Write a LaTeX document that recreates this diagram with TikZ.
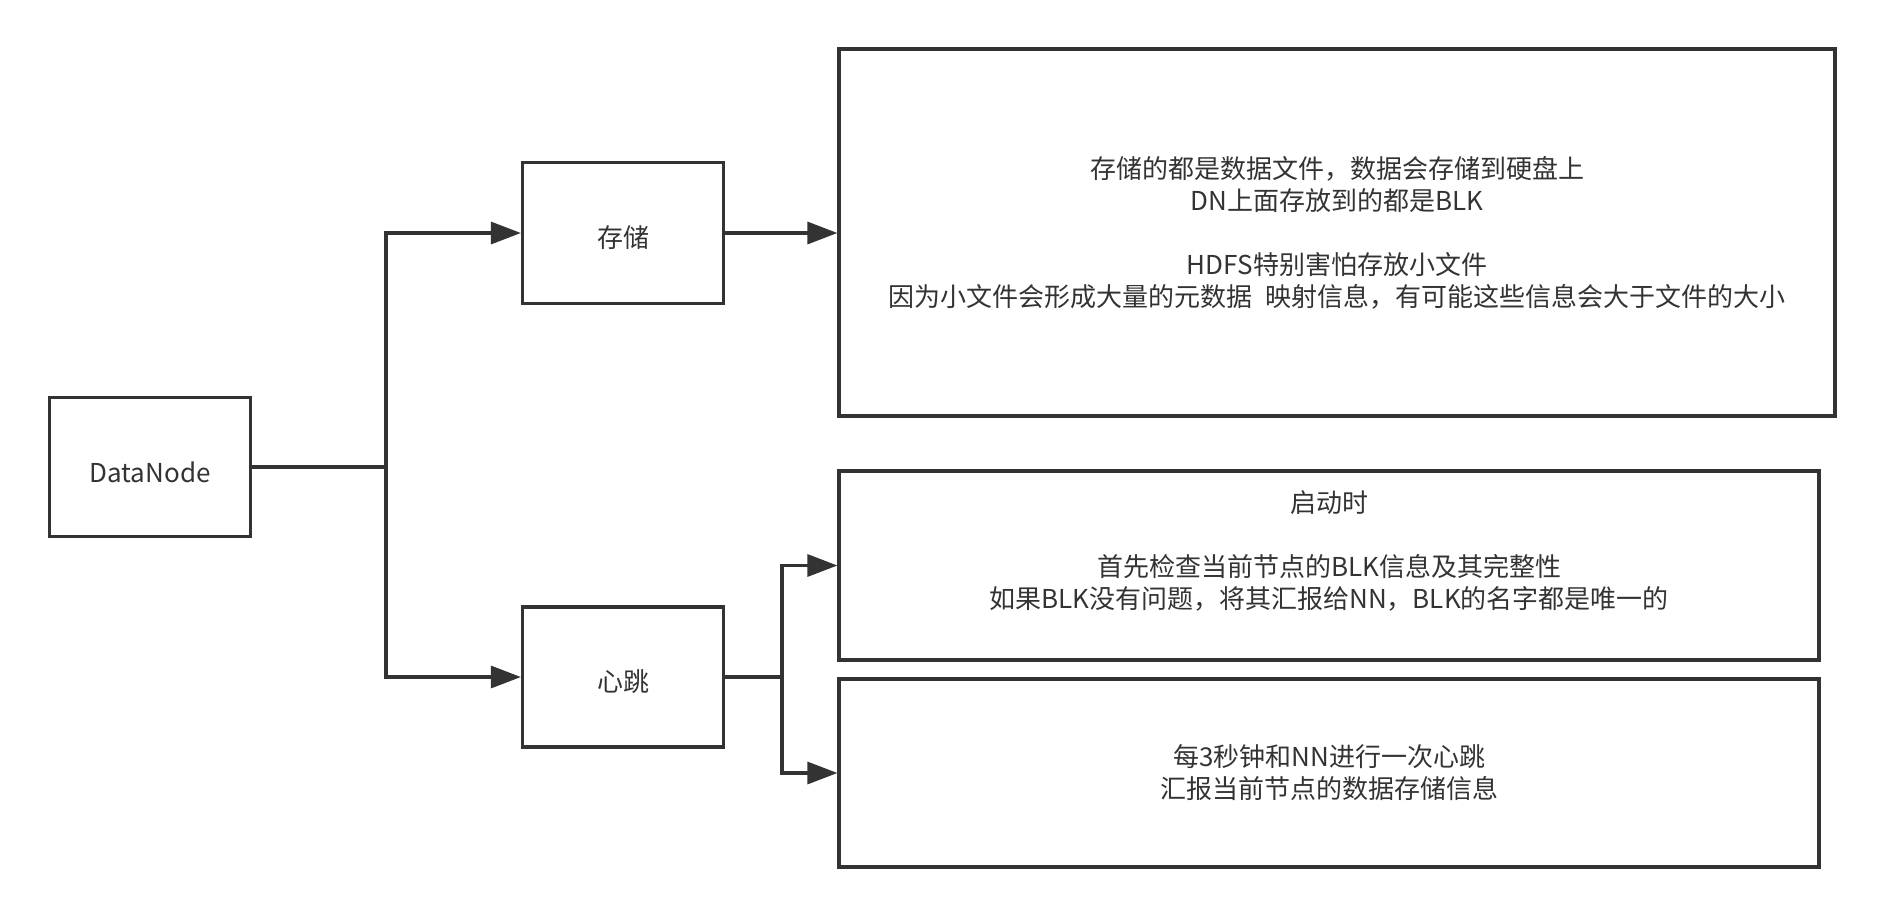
\documentclass[tikz,border=0pt]{standalone}
\usepackage{fontspec}
\setmainfont{Noto Sans CJK SC}
\usepackage{tikz}
\usetikzlibrary{arrows.meta,calc,positioning}
\definecolor{darkline}{HTML}{333333}
\tikzset{
  box/.style={
    draw=darkline,
    line width=1.6pt,
    text=darkline,
    align=center,
    inner sep=0pt,
    font=\fontsize{13}{16}\selectfont,
    execute at begin node={\rule{0pt}{16pt}}
  },
  link/.style={
    line width=1.6pt,
    darkline
  },
  arrow/.style={
    link,
    -{Triangle[length=15pt,width=11pt]}
  }
}

\begin{document}
\begin{tikzpicture}[x=0.5pt,y=-0.5pt]
\useasboundingbox (0,0) rectangle (1884,917);
\node[box, minimum width=100.5pt, minimum height=69.5pt] (dn) at (150,467) {DataNode};
\node[box, minimum width=100.5pt, minimum height=70.5pt] (cc) at (623,233) {存储};
\node[box, minimum width=100.5pt, minimum height=70pt] (xt) at (623,677) {心跳};
\node[box, minimum width=498pt, minimum height=183.5pt] (info1) at (1337,232.5)
  {存储的都是数据文件，数据会存储到硬盘上\\DN上面存放到的都是BLK\\[16pt]
   HDFS特别害怕存放小文件\\因为小文件会形成大量的元数据\hspace{0.5em}映射信息，有可能这些信息会大于文件的大小};
\node[box, minimum width=490pt, minimum height=94.5pt] (info2) at (1329,565.5)
  {启动时\\[16pt]首先检查当前节点的BLK信息及其完整性\\如果BLK没有问题，将其汇报给NN，BLK的名字都是唯一的\\\mbox{}};
\node[box, minimum width=490pt, minimum height=94pt] (info3) at (1329,773)
  {每3秒钟和NN进行一次心跳\\汇报当前节点的数据存储信息};
\coordinate (fork) at (386,467);
\coordinate (hbfork) at (782,677);
\draw[link] (dn.east) -- (fork);
\draw[arrow] (fork) |- (cc.west);
\draw[arrow] (fork) |- (xt.west);
\draw[arrow] (cc.east) -- (cc.east -| info1.west);
\draw[link] (xt.east) -- (hbfork);
\draw[arrow] (hbfork) |- (info2.west);
\draw[arrow] (hbfork) |- (info3.west);
\end{tikzpicture}
\end{document}
